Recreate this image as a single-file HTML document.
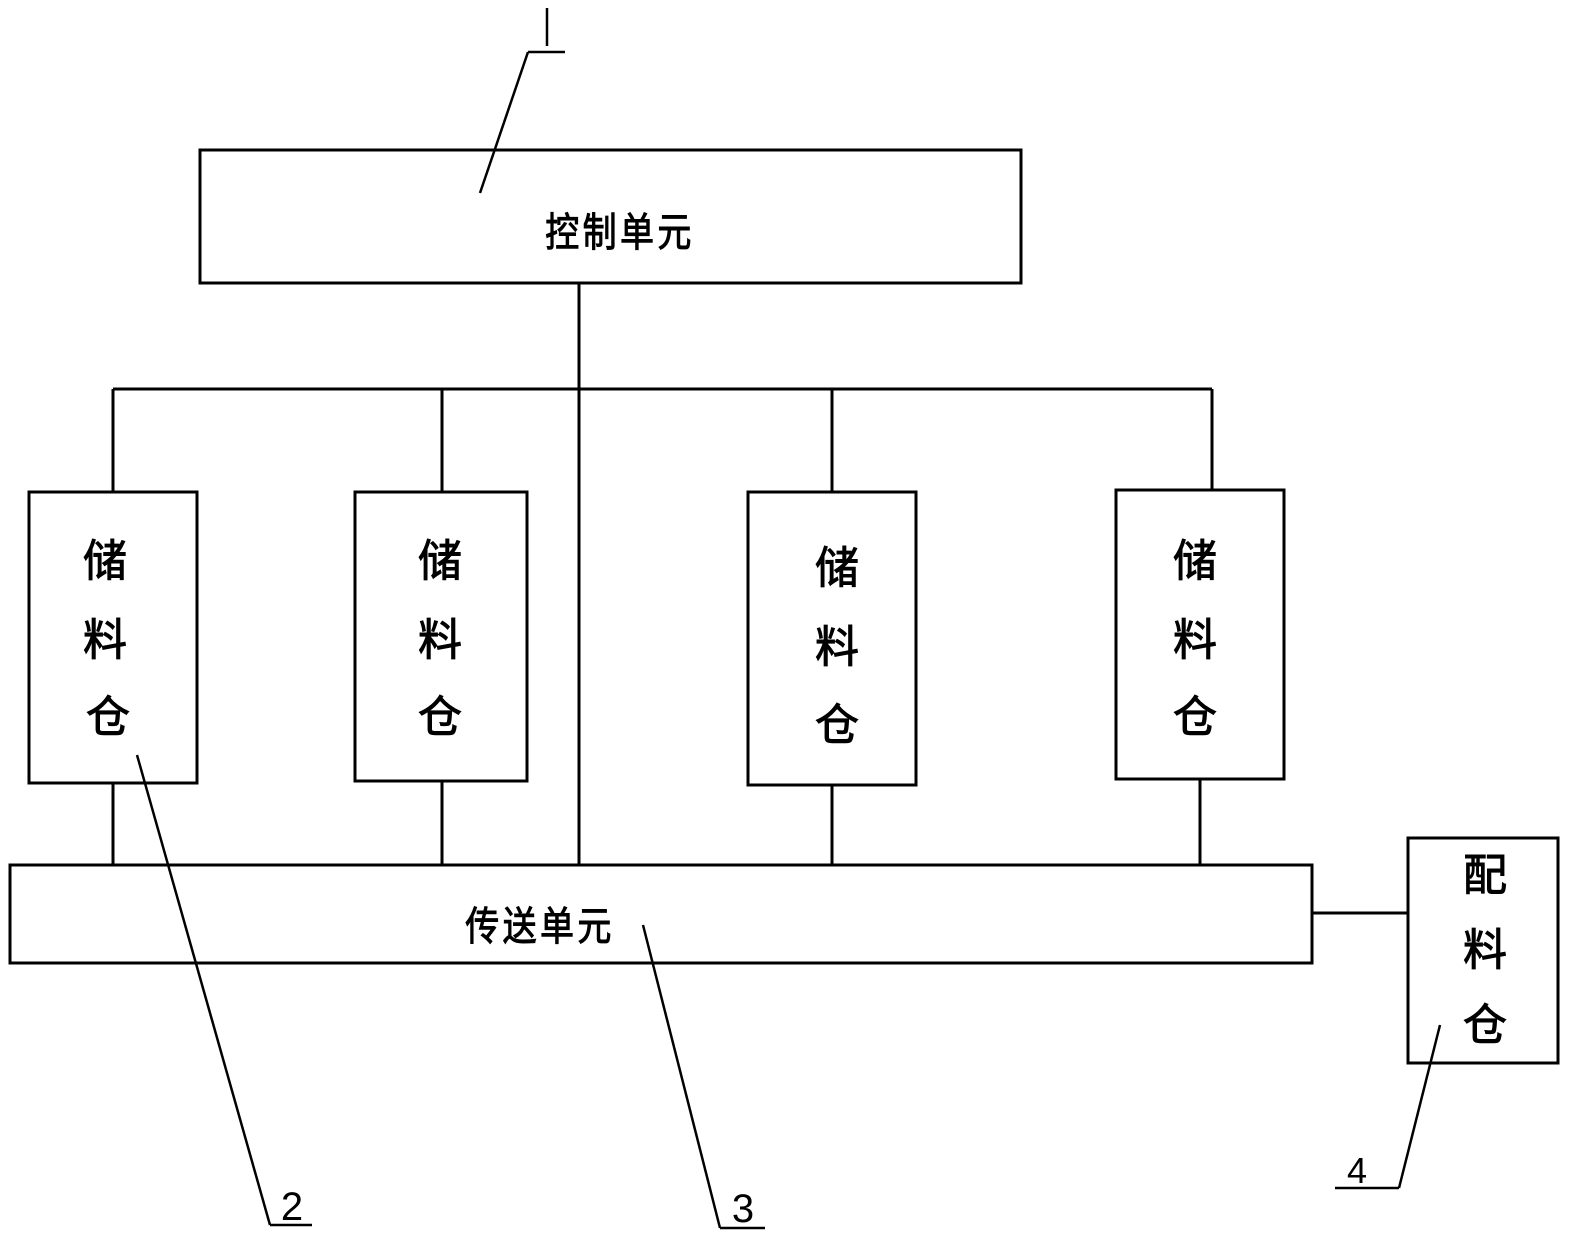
<!DOCTYPE html>
<html><head><meta charset="utf-8"><style>
html,body{margin:0;padding:0;background:#fff;}
svg text{font-family:"Liberation Sans","Noto Sans CJK SC",sans-serif;fill:#000;}
</style></head><body>
<svg width="1579" height="1251" viewBox="0 0 1579 1251" xmlns="http://www.w3.org/2000/svg">
<g fill="none" stroke="#000" stroke-width="3">
<rect x="200" y="150" width="821" height="133"/>
<line x1="579" y1="283" x2="579" y2="865"/>
<line x1="113" y1="389" x2="1212" y2="389"/>
<line x1="113" y1="389" x2="113" y2="492"/>
<line x1="442" y1="389" x2="442" y2="492"/>
<line x1="832" y1="389" x2="832" y2="492"/>
<line x1="1212" y1="389" x2="1212" y2="490"/>
<rect x="29" y="492" width="168" height="291"/>
<rect x="355" y="492" width="172" height="289"/>
<rect x="748" y="492" width="168" height="293"/>
<rect x="1116" y="490" width="168" height="289"/>
<line x1="113" y1="783" x2="113" y2="865"/>
<line x1="442" y1="781" x2="442" y2="865"/>
<line x1="832" y1="785" x2="832" y2="865"/>
<line x1="1200" y1="779" x2="1200" y2="865"/>
<rect x="10" y="865" width="1302" height="98"/>
<line x1="1312" y1="913" x2="1408" y2="913"/>
<rect x="1408" y="838" width="150" height="225"/>
</g>
<g fill="none" stroke="#000" stroke-width="2.5">
<line x1="547" y1="8" x2="547" y2="46"/>
<line x1="528" y1="52" x2="565" y2="52"/>
<line x1="528" y1="52" x2="480" y2="193"/>
<line x1="270" y1="1225" x2="312" y2="1225"/>
<line x1="270" y1="1225" x2="137" y2="755"/>
<line x1="720" y1="1228" x2="765" y2="1228"/>
<line x1="720" y1="1228" x2="643" y2="925"/>
<line x1="1335" y1="1188" x2="1399" y2="1188"/>
<line x1="1399" y1="1188" x2="1440" y2="1025"/>
</g>
<g stroke="#000" stroke-width="1">
<g font-size="40">
<text x="620" y="246" text-anchor="middle" transform="translate(620 0) scale(0.85 1) translate(-620 0)" letter-spacing="4">控制单元</text>
<text x="540" y="940" text-anchor="middle" transform="translate(540 0) scale(0.85 1) translate(-540 0)" letter-spacing="4">传送单元</text>
</g>
<g font-size="44" text-anchor="middle">
<text x="105" y="576">储</text><text x="105" y="655">料</text><text x="108" y="732">仓</text>
<text x="440" y="576">储</text><text x="440" y="655">料</text><text x="440" y="732">仓</text>
<text x="837" y="583">储</text><text x="837" y="662">料</text><text x="837" y="740">仓</text>
<text x="1195" y="576">储</text><text x="1195" y="655">料</text><text x="1195" y="732">仓</text>
<text x="1485" y="890">配</text><text x="1485" y="965">料</text><text x="1485" y="1040">仓</text>
</g>
</g>
<g font-size="40" text-anchor="middle">
<text x="292" y="1220">2</text>
<text x="743" y="1222">3</text>
<text x="1357" y="1183" font-size="36">4</text>
</g>
</svg>
</body></html>
